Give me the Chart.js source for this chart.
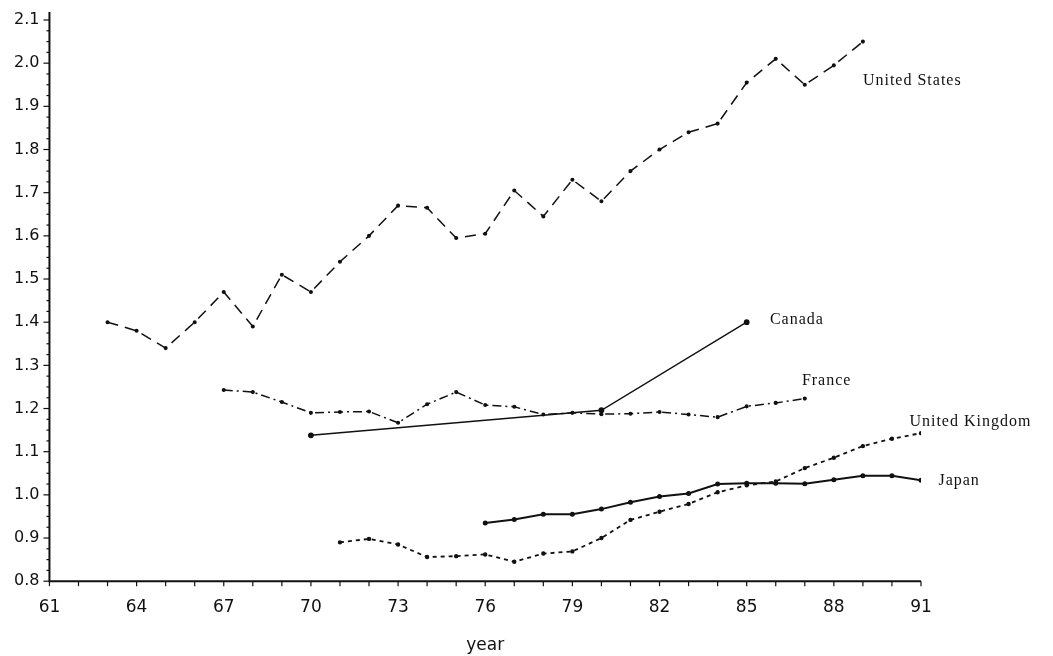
<!DOCTYPE html>
<html>
<head>
<meta charset="utf-8">
<script src="https://cdn.jsdelivr.net/npm/chart.js@4"></script>
<style>
  html, body { margin: 0; padding: 0; background: #fff; }
  #wrap { width: 1053px; height: 656px; }
</style>
</head>
<body>
<div id="wrap"><canvas id="grafica"></canvas></div>
<script>
// datos
const aniosUS = [63,64,65,66,67,68,69,70,71,72,73,74,75,76,77,78,79,80,81,82,83,84,85,86,87,88,89];
const valoresUS = [1.40,1.38,1.34,1.40,1.47,1.39,1.51,1.47,1.54,1.60,1.67,1.665,1.595,1.605,1.705,1.645,1.73,1.68,1.75,1.80,1.84,1.86,1.955,2.01,1.95,1.995,2.05];

const aniosFrancia = [67,68,69,70,71,72,73,74,75,76,77,78,79,80,81,82,83,84,85,86,87];
const valoresFrancia = [1.243,1.238,1.215,1.19,1.192,1.193,1.167,1.21,1.238,1.208,1.204,1.186,1.19,1.187,1.188,1.192,1.186,1.18,1.205,1.213,1.223];

const aniosCanada = [70,80,85];
const valoresCanada = [1.138,1.196,1.40];

const aniosJapon = [76,77,78,79,80,81,82,83,84,85,86,87,88,89,90,91];
const valoresJapon = [0.935,0.943,0.955,0.955,0.967,0.983,0.996,1.003,1.025,1.027,1.027,1.026,1.035,1.044,1.044,1.034];

const aniosUK = [71,72,73,74,75,76,77,78,79,80,81,82,83,84,85,86,87,88,89,90,91];
const valoresUK = [0.89,0.898,0.885,0.856,0.858,0.862,0.845,0.864,0.869,0.90,0.942,0.961,0.979,1.006,1.022,1.031,1.062,1.086,1.113,1.13,1.143];

const ticksX = [61,64,67,70,73,76,79,82,85,88,91];

// etiquetas de series: [texto, año, valor]
const etiquetas = [
  ["United States", 89.0, 1.96],
  ["Canada", 85.8, 1.405],
  ["France", 86.9, 1.265],
  ["United Kingdom", 90.6, 1.17],
  ["Japan", 91.6, 1.033]
];

const puntos = (xs, ys) => xs.map((x, i) => ({ x: x, y: ys[i] }));

function serie(nombre, xs, ys, dash, ancho, radio) {
  return {
    label: nombre,
    data: puntos(xs, ys),
    borderColor: '#111',
    backgroundColor: '#111',
    borderWidth: ancho,
    borderDash: dash,
    pointRadius: radio,
    pointStyle: 'circle',
    tension: 0
  };
}

const pluginEtiquetas = {
  id: 'etiquetas',
  afterDatasetsDraw(chart) {
    const ctx = chart.ctx, sx = chart.scales.x, sy = chart.scales.y;
    ctx.save();
    ctx.fillStyle = '#111';
    ctx.font = '16px "Liberation Serif", serif';
    ctx.letterSpacing = '1px';
    ctx.textBaseline = 'middle';
    etiquetas.forEach(e => ctx.fillText(e[0], sx.getPixelForValue(e[1]), sy.getPixelForValue(e[2])));
    // ejes y marcas menores
    ctx.strokeStyle = '#111';
    ctx.lineWidth = 2;
    ctx.beginPath();
    ctx.moveTo(sx.left, sy.top - 8);
    ctx.lineTo(sx.left, sy.bottom);
    ctx.lineTo(sx.right, sy.bottom);
    ctx.stroke();
    ctx.lineWidth = 1.2;
    for (let a = 61; a <= 91; a++) {
      const px = sx.getPixelForValue(a);
      ctx.beginPath(); ctx.moveTo(px, sy.bottom); ctx.lineTo(px, sy.bottom + 5); ctx.stroke();
    }
    for (let v = 0.8; v <= 2.1001; v += 0.025) {
      const py = sy.getPixelForValue(v);
      const largo = Math.abs(v * 10 - Math.round(v * 10)) < 0.01 ? 6 : 3;
      ctx.beginPath(); ctx.moveTo(sx.left - largo, py); ctx.lineTo(sx.left, py); ctx.stroke();
    }
    ctx.restore();
  }
};

new Chart(document.getElementById('grafica'), {
  type: 'line',
  data: {
    datasets: [
      serie('United States', aniosUS, valoresUS, [11, 7], 1.5, 1.3),
      serie('France', aniosFrancia, valoresFrancia, [9, 4, 2, 4], 1.5, 1.3),
      serie('Canada', aniosCanada, valoresCanada, [], 1.4, 2.2),
      serie('Japan', aniosJapon, valoresJapon, [], 2, 1.5),
      serie('United Kingdom', aniosUK, valoresUK, [4, 4], 1.8, 1.3)
    ]
  },
  options: {
    responsive: true,
    maintainAspectRatio: false,
    animation: false,
    layout: { padding: { top: 20, right: 132, bottom: 0, left: 4 } },
    plugins: { legend: { display: false }, tooltip: { enabled: false } },
    scales: {
      x: {
        type: 'linear', min: 61, max: 91,
        afterBuildTicks: s => { s.ticks = ticksX.map(v => ({ value: v })); },
        grid: { display: false, drawTicks: false },
        border: { display: false },
        ticks: { color: '#111', font: { size: 17, family: '"DejaVu Sans", sans-serif' }, padding: 16 },
        title: { display: true, text: 'year', color: '#111', font: { size: 17, family: '"DejaVu Sans", sans-serif' }, padding: { top: 2, bottom: 0 } }
      },
      y: {
        min: 0.8, max: 2.1,
        grid: { display: false, drawTicks: false },
        border: { display: false },
        ticks: { stepSize: 0.1, color: '#111', padding: 10, font: { size: 16, family: '"DejaVu Sans", sans-serif' }, callback: v => v.toFixed(1) }
      }
    }
  },
  plugins: [pluginEtiquetas]
});
</script>
</body>
</html>
